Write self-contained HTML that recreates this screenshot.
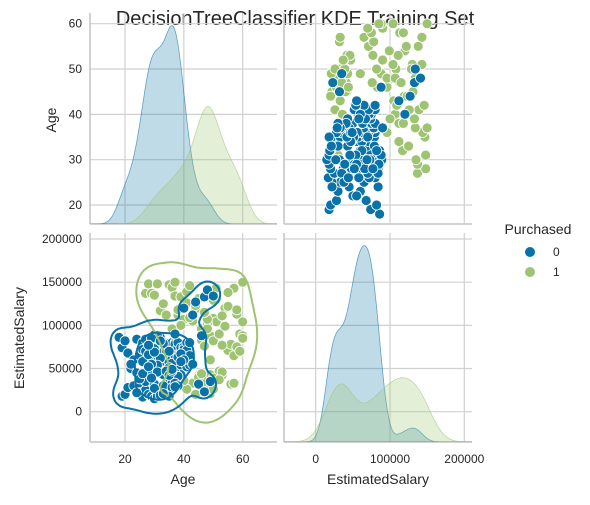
<!DOCTYPE html>
<html><head><meta charset="utf-8"><style>
body{margin:0;background:#fff;width:590px;height:500px;overflow:hidden}
svg text{font-family:"Liberation Sans",Arial,sans-serif;fill:#262626}
</style></head><body>
<svg id="chart" width="590" height="500" xmlns="http://www.w3.org/2000/svg">
<text x="295" y="25" font-size="20" text-anchor="middle">DecisionTreeClassifier KDE Training Set</text>
<text x="538" y="234" font-size="14" text-anchor="middle">Purchased</text>
<circle cx="530" cy="252" r="5" fill="#0a72a6"/>
<text x="553" y="256" font-size="12">0</text>
<circle cx="530" cy="272" r="5" fill="#9ec472"/>
<text x="553" y="276" font-size="12">1</text>
<text transform="translate(56,120) rotate(-90)" font-size="14" text-anchor="middle">Age</text>
<text transform="translate(24,338) rotate(-90)" font-size="14" text-anchor="middle">EstimatedSalary</text>
<text x="183" y="484" font-size="14" text-anchor="middle">Age</text>
<text x="378" y="484" font-size="14" text-anchor="middle">EstimatedSalary</text>
</svg>
<script>
const classes=['0','1'];
const age0=[18,19,19,20,20,21,21,22,23,23,24,24,25,25,25,26,26,26,27,27,27,27,28,28,28,28,29,29,29,29,30,30,30,30,30,31,31,31,31,32,32,32,32,33,33,33,33,34,34,34,34,35,35,35,35,35,35,36,36,36,36,36,36,37,37,37,37,37,37,37,38,38,38,38,38,38,39,39,39,39,39,40,40,40,40,41,41,41,42,42,42,43,43,44,45,46,47,48,49,50,
26,27,28,29,30,31,32,33,34,35,29,36,30,37,28,38,31,39,32,40,27,28,29,30,31,33,35,36,37,38,24,25,26,28,30,32,34,35,36,37,38,39,35,36,37,22,29,33,40,47];
const sal0=[86000,18000,74000,20000,82000,68000,28000,50000,30000,60000,45000,84000,33000,65000,22000,80000,17000,72000,58000,25000,70000,44000,84000,37000,62000,20000,61000,43000,75000,18000,89000,15000,62000,49000,76000,74000,18000,68000,58000,60000,20000,86000,72000,43000,69000,28000,80000,71000,55000,25000,62000,22000,57000,75000,79000,33000,68000,52000,33000,72000,61000,80000,71000,74000,80000,59000,70000,53000,78000,65000,61000,50000,72000,75000,62000,80000,71000,43000,74000,59000,65000,59000,75000,57000,72000,52000,80000,71000,80000,65000,54000,112000,55000,127000,32000,88000,133000,141000,35000,134000,
58000,84000,66000,52000,73000,88000,62000,79000,48000,70000,85000,56000,69000,90000,77000,63000,54000,67000,82000,60000,35000,48000,55000,32000,46000,30000,51000,28000,45000,41000,22000,38000,44000,52000,27000,19000,47000,42000,47000,33000,30000,58000,18000,49000,29000,55000,39000,21000,120000,23000];
const age1=[27,28,29,30,31,32,33,34,35,35,36,37,38,39,39,40,41,42,42,43,44,45,45,46,46,47,47,47,48,48,48,48,49,49,49,50,50,50,51,51,52,52,53,53,54,55,56,57,58,59,60,60,46,47,48,49,50,45,44,43,41,40,38,36,52,53,54,55,57,58,59,60,48,47,46,49,51,42,39,37,33,31,48,47,49,50,45,46,52,56,58,41,44,48,47,50,53,55,57,60];
const sal1=[137000,148000,137000,135000,148000,117000,125000,112000,147000,78000,144000,134000,112000,133000,71000,107000,139000,146000,80000,105000,119000,22000,131000,28000,96000,32000,113000,41000,25000,134000,141000,36000,20000,88000,43000,33000,82000,108000,104000,130000,47000,38000,42000,46000,99000,71000,78000,65000,75000,90000,88000,150000,83000,76000,102000,30000,39000,42000,20000,33000,26000,36000,118000,96000,90000,77000,120000,122000,143000,113000,70000,85000,96000,23000,34000,60000,143000,109000,100000,150000,22000,30000,29000,35000,21000,26000,40000,44000,37000,32000,118000,126000,123000,107000,115000,129000,111000,138000,33000,104000];
const ageTicks=[20,30,40,50,60];
const ageXTicks=[20,40,60];
const salTicks=[0,50000,100000,150000,200000];
const salXTicks=[0,100000,200000];
const NS='http://www.w3.org/2000/svg';
const svg=document.getElementById('chart');
const COL=['#0a72a6','#9ec472'];
function mk(t,a,p){const e=document.createElementNS(NS,t);for(const k in a)e.setAttribute(k,a[k]);(p||svg).appendChild(e);return e;}
const n0=Math.min(age0.length,sal0.length),n1=Math.min(age1.length,sal1.length);
const A0=age0.slice(0,n0),S0=sal0.slice(0,n0),A1=age1.slice(0,n1),S1=sal1.slice(0,n1);
const L={x0:90,x1:277},R={x0:284,x1:472},T={y0:13,y1:224},B={y0:233,y1:442};
function lin(d0,d1,r0,r1){return v=>r0+(v-d0)/(d1-d0)*(r1-r0);}
const ageX=lin(20,60,125,242.7), ageY=lin(20,60,205,23.7);
const salY=lin(0,200000,411.7,239), salX=lin(0,100000,315.7,390);
const defs=mk('defs',{});
[['cTL',L,T],['cTR',R,T],['cBL',L,B],['cBR',R,B]].forEach(([id,c,r])=>{const cp=mk('clipPath',{id:id},defs);mk('rect',{x:c.x0,y:r.y0,width:c.x1-c.x0,height:r.y1-r.y0},cp);});
function grid(c,r,xs,xf,ys,yf,name){
  const g=mk('g',{});
  xs.forEach(v=>mk('line',{x1:xf(v),x2:xf(v),y1:r.y0,y2:r.y1,stroke:'#d0d0d0','stroke-width':1.2},g));
  ys.forEach(v=>mk('line',{x1:c.x0,x2:c.x1,y1:yf(v),y2:yf(v),stroke:'#d0d0d0','stroke-width':1.2},g));
  mk('line',{x1:c.x0,x2:c.x0,y1:r.y0,y2:r.y1,stroke:'#cccccc','stroke-width':1.8},g);
  mk('line',{x1:c.x0,x2:c.x1,y1:r.y1,y2:r.y1,stroke:'#cccccc','stroke-width':1.8},g);
}
grid(L,T,ageXTicks,ageX,ageTicks,ageY,'grid-age-age');
grid(R,T,salXTicks,salX,ageTicks,ageY,'grid-salary-age');
grid(L,B,ageXTicks,ageX,salTicks,salY,'grid-age-salary');
grid(R,B,salXTicks,salX,salTicks,salY,'grid-salary-salary');
ageTicks.forEach(v=>{const t=mk('text',{x:82,y:ageY(v)+4,'font-size':12,'text-anchor':'end'});t.textContent=v;});
salTicks.forEach(v=>{const t=mk('text',{x:82,y:salY(v)+4,'font-size':12,'text-anchor':'end'});t.textContent=v;});
ageXTicks.forEach(v=>{const t=mk('text',{x:ageX(v),y:463,'font-size':12,'text-anchor':'middle'});t.textContent=v;});
salXTicks.forEach(v=>{const t=mk('text',{x:salX(v),y:463,'font-size':12,'text-anchor':'middle'});t.textContent=v;});
function sd(a){const m=a.reduce((s,v)=>s+v,0)/a.length;return Math.sqrt(a.reduce((s,v)=>s+(v-m)*(v-m),0)/(a.length-1));}
const N=n0+n1;
function kde1(data,x,bw){let s=0;for(const d of data){const z=(x-d)/bw;s+=Math.exp(-0.5*z*z);}return s/(N*bw*Math.sqrt(2*Math.PI));}
function diag(datas,lo,hi,xf,c,r,clip,name){
  const curves=datas.map(d=>{const bw=sd(d)*Math.pow(d.length,-0.2);const pts=[];for(let i=0;i<=200;i++){const x=lo+(hi-lo)*i/200;pts.push([x,kde1(d,x,bw)]);}return pts;});
  let mx=0;curves.forEach(cv=>cv.forEach(p=>mx=Math.max(mx,p[1])));
  const H=(r.y1-r.y0)*0.94;
  const g=mk('g',{'clip-path':'url(#'+clip+')'});
  curves.forEach((cv,k)=>{let dd='M'+xf(cv[0][0])+','+r.y1;cv.forEach(p=>dd+='L'+xf(p[0]).toFixed(1)+','+(r.y1-p[1]/mx*H).toFixed(1));dd+='L'+xf(cv[cv.length-1][0])+','+r.y1+'Z';
    const p=mk('path',{d:dd,fill:COL[k],'fill-opacity':k?0.28:0.26,stroke:COL[k],'stroke-opacity':0.6,'stroke-width':0.8},g);});
}
diag([A0,A1],5,75,ageX,L,T,'cTL','age-kde');
diag([S0,S1],-60000,230000,salX,R,B,'cBR','salary-kde');
function contour(ax,sy,color,levels,name){
  const g=mk('g',{'clip-path':'url(#cBL)'});
  const f=Math.pow(ax.length,-1/6),ba=sd(ax)*f,bs=sd(sy)*f;
  const nx=90,ny=90,a0=0,a1=80,s0=-50000,s1=220000;const Z=[];let mx=0;
  for(let j=0;j<=ny;j++){Z.push([]);const s=s0+(s1-s0)*j/ny;for(let i=0;i<=nx;i++){const a=a0+(a1-a0)*i/nx;let v=0;for(let k=0;k<ax.length;k++){const za=(a-ax[k])/ba,zs=(s-sy[k])/bs;v+=Math.exp(-0.5*(za*za+zs*zs));}Z[j].push(v);mx=Math.max(mx,v);}}
  const P=(i,j)=>[ageX(a0+(a1-a0)*i/nx),salY(s0+(s1-s0)*j/ny)];
  levels.forEach(lf=>{const lv=lf*mx;let d='';
    for(let j=0;j<ny;j++)for(let i=0;i<nx;i++){
      const v=[Z[j][i],Z[j][i+1],Z[j+1][i+1],Z[j+1][i]];const c=[[i,j],[i+1,j],[i+1,j+1],[i,j+1]];const pts=[];
      for(let e=0;e<4;e++){const v1=v[e],v2=v[(e+1)%4];if((v1>=lv)!==(v2>=lv)){const t=(lv-v1)/(v2-v1);const p1=P(...c[e]),p2=P(...c[(e+1)%4]);pts.push([p1[0]+t*(p2[0]-p1[0]),p1[1]+t*(p2[1]-p1[1])]);}}
      for(let q=0;q+1<pts.length;q+=2)d+='M'+pts[q][0].toFixed(1)+','+pts[q][1].toFixed(1)+'L'+pts[q+1][0].toFixed(1)+','+pts[q+1][1].toFixed(1);}
    mk('path',{d:d,fill:'none',stroke:color,'stroke-width':2,'stroke-linecap':'round'},g);});
}
function scatter(xs,ys,xf,yf,color,clip,name){
  const g=mk('g',{'clip-path':'url(#'+clip+')'});
  xs.forEach((x,i)=>{const c=mk('circle',{cx:xf(x).toFixed(1),cy:yf(ys[i]).toFixed(1),r:5,fill:color,stroke:'#fff','stroke-width':0.8},g);});
}
scatter(S1,A1,salX,ageY,COL[1],'cTR','scatter-salary-age-1');
scatter(S0,A0,salX,ageY,COL[0],'cTR','scatter-salary-age-0');
scatter(A1,S1,ageX,salY,COL[1],'cBL','scatter-age-salary-1');
scatter(A0,S0,ageX,salY,COL[0],'cBL','scatter-age-salary-0');
contour(A1,S1,COL[1],[0.1],'contour-class-1');
contour(A0,S0,COL[0],[0.04,0.3],'contour-class-0');
</script>
</body></html>
